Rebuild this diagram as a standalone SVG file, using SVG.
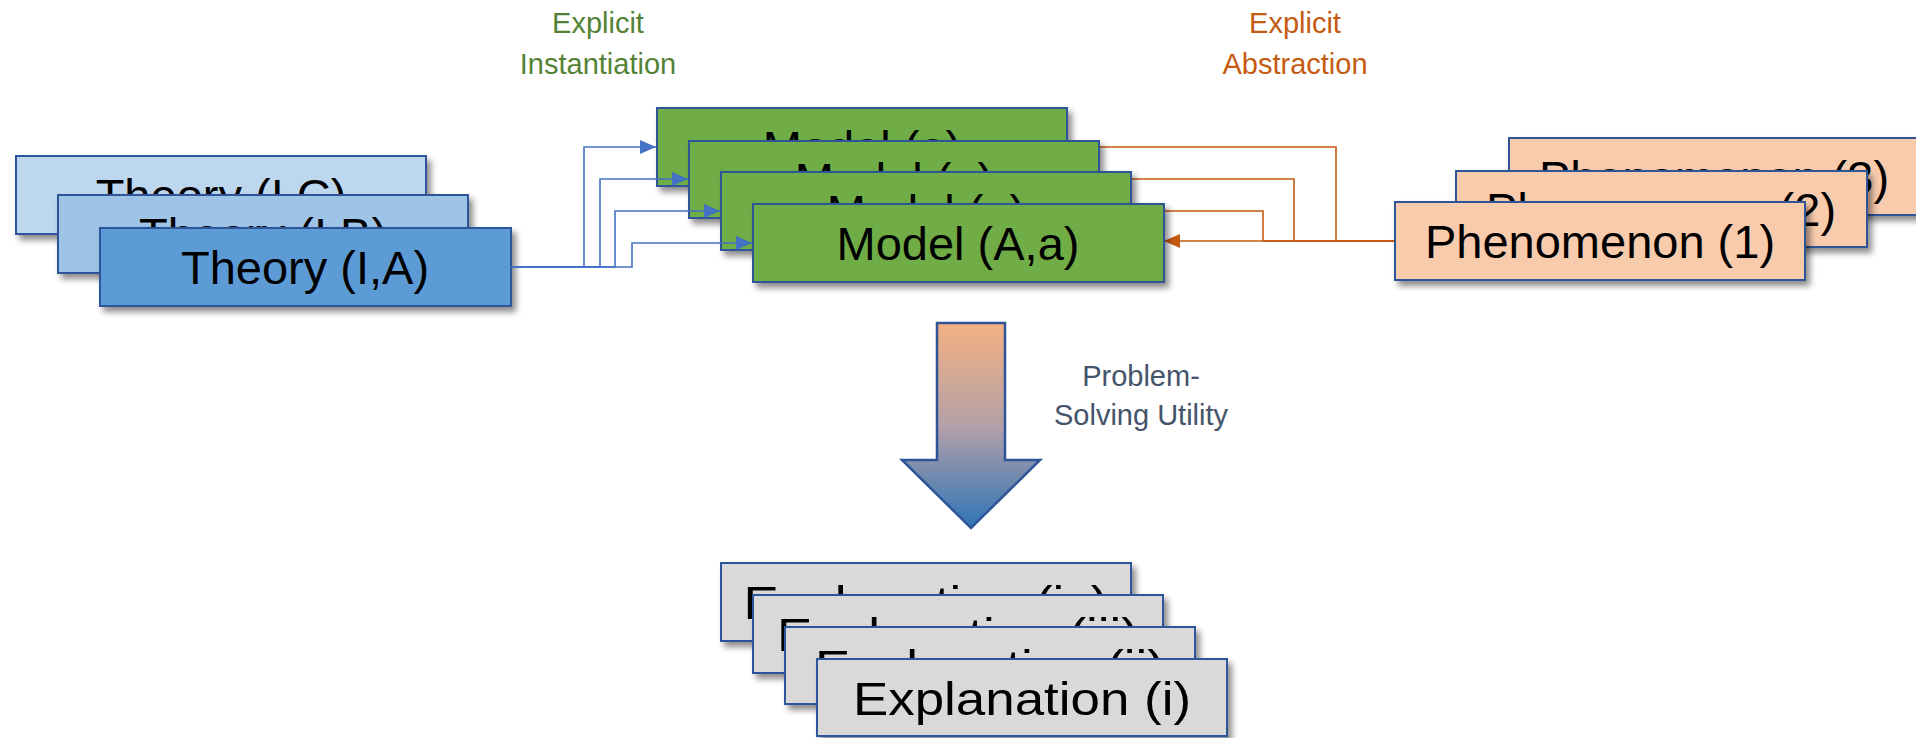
<svg xmlns="http://www.w3.org/2000/svg" width="1916" height="738" viewBox="0 0 1916 738">
<style>
  .box { stroke: #2F5597; stroke-width: 2; filter: url(#shadow); }
  .theoryC { fill: #BDD7EE; }
  .theoryB { fill: #9DC3E6; }
  .theoryA { fill: #5B9BD5; }
  .model { fill: #70AD47; }
  .phen { fill: #F8CBAD; }
  .expl { fill: #D9D9D9; }
  .lbl { font-family: "Liberation Sans", Arial, sans-serif; font-size: 47px; fill: #000; text-anchor: middle; }
  .small { font-family: "Liberation Sans", Arial, sans-serif; font-size: 29px; text-anchor: middle; }
  .blue { fill: none; stroke: #4472C4; stroke-width: 1.6; marker-end: url(#arrBlue); }
  .orange { fill: none; stroke: #C55A11; stroke-width: 1.6; }
</style>
<defs>
  <filter id="shadow" x="-10%" y="-20%" width="130%" height="160%">
    <feDropShadow dx="4" dy="5" stdDeviation="3" flood-color="#000" flood-opacity="0.45"/>
  </filter>
  <marker id="arrBlue" viewBox="0 0 16 14" refX="16" refY="7" markerWidth="16" markerHeight="14" markerUnits="userSpaceOnUse" orient="auto">
    <path d="M0,0 L16,7 L0,14 Z" fill="#4472C4"/>
  </marker>
  <marker id="arrOrange" viewBox="0 0 16 14" refX="16" refY="7" markerWidth="16" markerHeight="14" markerUnits="userSpaceOnUse" orient="auto">
    <path d="M0,0 L16,7 L0,14 Z" fill="#C55A11"/>
  </marker>
  <linearGradient id="arrowGrad" x1="0" y1="0" x2="0" y2="1">
    <stop offset="0" stop-color="#F4B183"/>
    <stop offset="0.5" stop-color="#B4A0A8"/>
    <stop offset="1" stop-color="#2E75B6"/>
  </linearGradient>
</defs>
<rect x="0" y="0" width="1916" height="738" fill="#FFFFFF"/>

<g id="labels">
  <text class="small" x="598" y="33" fill="#548235">Explicit</text>
  <text class="small" x="598" y="74" fill="#548235">Instantiation</text>
  <text class="small" x="1295" y="33" fill="#C55A11">Explicit</text>
  <text class="small" x="1295" y="74" fill="#C55A11">Abstraction</text>
  <text class="small" x="1141" y="386" fill="#44546A">Problem-</text>
  <text class="small" x="1141" y="425" fill="#44546A">Solving Utility</text>
</g>

<g id="theory-c"><rect class="box theoryC" x="16" y="156" width="410" height="78"/><text class="lbl" x="221" y="212">Theory (I,C)</text></g>
<g id="theory-b"><rect class="box theoryB" x="58" y="195" width="410" height="78"/><text class="lbl" x="263" y="251">Theory (I,B)</text></g>
<g id="theory-a"><rect class="box theoryA" x="100" y="228" width="411" height="78"/><text class="lbl" x="305" y="284">Theory (I,A)</text></g>

<g id="connectors-abstraction">
  <path class="orange" d="M1395,241 L1164,241" marker-end="url(#arrOrange)"/>
  <path class="orange" d="M1395,241 L1263,241 L1263,211 L1132,211" marker-end="url(#arrOrange)"/>
  <path class="orange" d="M1395,241 L1294,241 L1294,179 L1100,179" marker-end="url(#arrOrange)"/>
  <path class="orange" d="M1395,241 L1336,241 L1336,147 L1068,147" marker-end="url(#arrOrange)"/>
</g>

<g id="model-1"><rect class="box model" x="657" y="108" width="410" height="78"/><text class="lbl" x="862" y="164">Model (a)</text></g>
<g id="model-2"><rect class="box model" x="689" y="141" width="410" height="77"/><text class="lbl" x="894" y="196">Model (a)</text></g>
<g id="model-3"><rect class="box model" x="721" y="172" width="410" height="78"/><text class="lbl" x="926" y="228">Model (a)</text></g>
<g id="model-4"><rect class="box model" x="753" y="204" width="411" height="78"/><text class="lbl" x="958" y="260">Model (A,a)</text></g>

<g id="phenomenon-3"><rect class="box phen" x="1509" y="138" width="410" height="77"/><text class="lbl" x="1714" y="194">Phenomenon (3)</text></g>
<g id="phenomenon-2"><rect class="box phen" x="1456" y="171" width="411" height="76"/><text class="lbl" x="1661" y="226">Phenomenon (2)</text></g>
<g id="phenomenon-1"><rect class="box phen" x="1395" y="202" width="410" height="78"/><text class="lbl" x="1600" y="258">Phenomenon (1)</text></g>

<g id="connectors-instantiation">
  <path class="blue" d="M511,267 L584,267 L584,147 L656,147"/>
  <path class="blue" d="M511,267 L600,267 L600,179 L688,179"/>
  <path class="blue" d="M511,267 L615,267 L615,211 L720,211"/>
  <path class="blue" d="M511,267 L632,267 L632,243 L752,243"/>
</g>

<g id="utility-arrow">
  <path d="M937,323 L1005,323 L1005,460 L1040,460 L971,528 L902,460 L937,460 Z" fill="url(#arrowGrad)" stroke="#2F5597" stroke-width="2.5" stroke-linejoin="miter"/>
</g>

<g id="explanation-4"><rect class="box expl" x="721" y="563" width="410" height="78"/><text class="lbl" x="926" y="619" textLength="365" lengthAdjust="spacingAndGlyphs">Explanation (iv)</text></g>
<g id="explanation-3"><rect class="box expl" x="753" y="595" width="410" height="78"/><text class="lbl" x="958" y="651" textLength="362" lengthAdjust="spacingAndGlyphs">Explanation (iii)</text></g>
<g id="explanation-2"><rect class="box expl" x="785" y="627" width="410" height="77"/><text class="lbl" x="990" y="683" textLength="350" lengthAdjust="spacingAndGlyphs">Explanation (ii)</text></g>
<g id="explanation-1"><rect class="box expl" x="817" y="659" width="410" height="77"/><text class="lbl" x="1022" y="715" textLength="338" lengthAdjust="spacingAndGlyphs">Explanation (i)</text></g>
</svg>
